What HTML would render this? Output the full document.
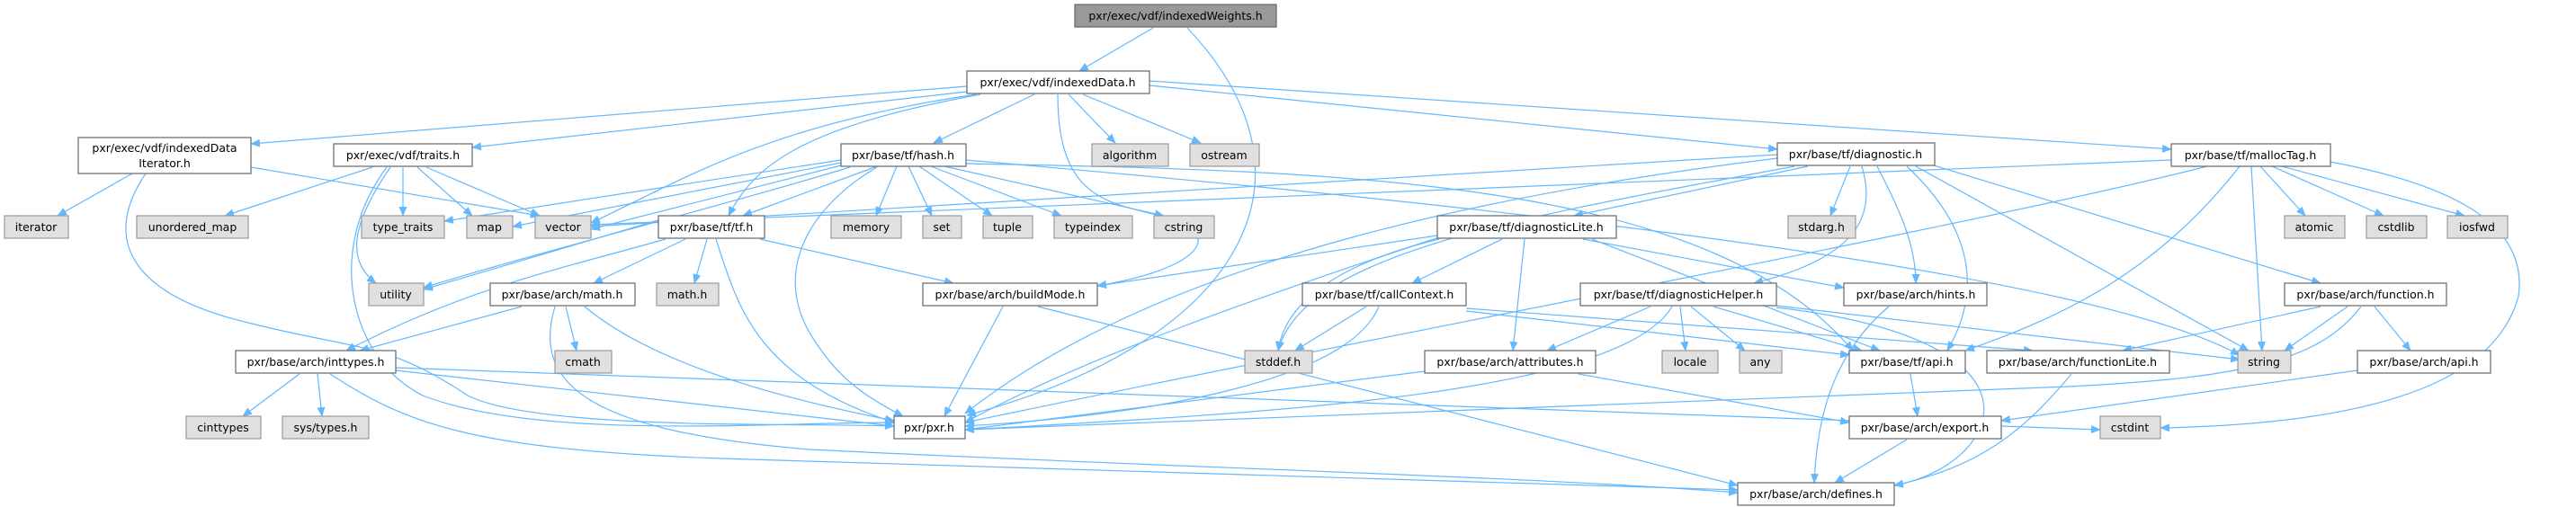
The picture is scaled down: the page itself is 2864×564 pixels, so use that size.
<!DOCTYPE html>
<html><head><meta charset="utf-8"><style>
html,body{margin:0;padding:0;background:#fff;}
svg{display:block;}
text{font-family:"DejaVu Sans","Liberation Sans",sans-serif;font-size:12.5px;fill:#000;text-anchor:middle;}
.n{fill:#fff;stroke:#666;stroke-width:1.2;}
.g{fill:#e0e0e0;stroke:#999;stroke-width:1.2;}
.e{fill:none;stroke:#63b8ff;stroke-width:1.2;marker-end:url(#a);}
</style></head><body>
<svg width="2864" height="564" viewBox="0 0 2864 564" xmlns="http://www.w3.org/2000/svg">
<defs><marker id="a" markerWidth="11" markerHeight="9" refX="10" refY="4.5" orient="auto" markerUnits="userSpaceOnUse"><path d="M0,0L11,4.5L0,9z" fill="#63b8ff"/></marker></defs>
<g>
<path class="e" d="M1282,31L1200,79"/>
<path class="e" d="M1320,31C1480,200 1380,380 1075,462"/>
<path class="e" d="M1075,96L279,160"/>
<path class="e" d="M1075,102L525,164"/>
<path class="e" d="M1150,105L1038,159"/>
<path class="e" d="M1188,105L1240,159"/>
<path class="e" d="M1204,105L1335,159"/>
<path class="e" d="M1090,105C900,140 840,180 810,240"/>
<path class="e" d="M1085,105C850,140 760,200 657,248"/>
<path class="e" d="M1278,95L1976,166"/>
<path class="e" d="M1278,90L2414,166"/>
<path class="e" d="M1176,105C1176,220 1230,225 1290,240C1370,260 1330,300 1220,318"/>
<path class="e" d="M147,193L64,240"/>
<path class="e" d="M279,186L600,240"/>
<path class="e" d="M162,193C110,270 150,330 280,360C400,390 430,380 520,440C600,480 900,470 994,474"/>
<path class="e" d="M414,186L250,240"/>
<path class="e" d="M448,186L448,240"/>
<path class="e" d="M464,186L525,240"/>
<path class="e" d="M474,186L600,240"/>
<path class="e" d="M434,186C390,250 385,290 418,315"/>
<path class="e" d="M430,186C360,280 390,400 470,440C600,490 850,470 994,470"/>
<path class="e" d="M975,185L826,240"/>
<path class="e" d="M997,185L974,240"/>
<path class="e" d="M1010,185L1036,240"/>
<path class="e" d="M1022,185L1103,240"/>
<path class="e" d="M1035,185L1180,240"/>
<path class="e" d="M1050,185L1294,240"/>
<path class="e" d="M935,178L494,246"/>
<path class="e" d="M935,181L570,252"/>
<path class="e" d="M935,184L657,255"/>
<path class="e" d="M945,186C800,230 600,280 471,320"/>
<path class="e" d="M975,186C900,230 860,300 900,370C930,420 960,440 1004,463"/>
<path class="e" d="M1074,178C1500,215 2300,290 2490,395"/>
<path class="e" d="M1074,182C1500,190 1900,200 2060,390"/>
<path class="e" d="M735,244L471,322"/>
<path class="e" d="M786,266L772,315"/>
<path class="e" d="M845,266L1060,315"/>
<path class="e" d="M796,266C820,340 840,420 994,470"/>
<path class="e" d="M762,266L660,315"/>
<path class="e" d="M740,266C620,300 520,320 385,390"/>
<path class="e" d="M580,341L400,390"/>
<path class="e" d="M629,341L641,390"/>
<path class="e" d="M650,341C720,400 850,440 994,468"/>
<path class="e" d="M617,341C590,430 660,480 900,500C1300,520 1700,530 1932,548"/>
<path class="e" d="M333,416L270,463"/>
<path class="e" d="M353,416L358,463"/>
<path class="e" d="M440,412L994,474"/>
<path class="e" d="M440,409L2335,478"/>
<path class="e" d="M367,416C450,470 520,500 800,510C1300,525 1700,535 1932,545"/>
<path class="e" d="M1115,341L1050,463"/>
<path class="e" d="M1154,341L1932,540"/>
<path class="e" d="M2010,185L1750,240"/>
<path class="e" d="M2057,185L2035,240"/>
<path class="e" d="M2070,185C2090,250 2050,290 1950,315"/>
<path class="e" d="M2087,185C2110,230 2130,270 2130,315"/>
<path class="e" d="M2120,185C2200,260 2200,330 2165,390"/>
<path class="e" d="M2130,185L2500,390"/>
<path class="e" d="M1976,172L657,252"/>
<path class="e" d="M1976,176C1700,210 1300,280 1073,460"/>
<path class="e" d="M1995,185C1700,240 1450,280 1421,390"/>
<path class="e" d="M2150,184L2580,315"/>
<path class="e" d="M1670,266L1570,315"/>
<path class="e" d="M1695,266L1682,390"/>
<path class="e" d="M1770,266L2090,390"/>
<path class="e" d="M1760,266L2050,320"/>
<path class="e" d="M1600,264C1400,330 1200,400 1073,470"/>
<path class="e" d="M1600,266C1500,290 1430,330 1421,390"/>
<path class="e" d="M1598,262L1220,318"/>
<path class="e" d="M1519,341L1440,390"/>
<path class="e" d="M1533,341C1500,420 1300,460 1073,474"/>
<path class="e" d="M1630,346L2056,395"/>
<path class="e" d="M1630,343L2260,390"/>
<path class="e" d="M1835,341L1720,390"/>
<path class="e" d="M1868,341L1874,390"/>
<path class="e" d="M1880,341L1940,390"/>
<path class="e" d="M1905,341L2070,390"/>
<path class="e" d="M1859,341C1800,440 1400,460 1073,478"/>
<path class="e" d="M1975,340L2490,400"/>
<path class="e" d="M1975,342C2300,380 2220,520 2106,540"/>
<path class="e" d="M2100,341C2030,400 2020,480 2017,537"/>
<path class="e" d="M1584,413L1073,478"/>
<path class="e" d="M1755,416L2056,470"/>
<path class="e" d="M2124,416L2132,463"/>
<path class="e" d="M2120,489L2040,537"/>
<path class="e" d="M2303,416C2250,480 2200,520 2106,540"/>
<path class="e" d="M2580,341L2360,390"/>
<path class="e" d="M2610,341L2540,390"/>
<path class="e" d="M2640,341L2680,390"/>
<path class="e" d="M2625,341C2580,400 2500,420 2300,430C1800,450 1300,470 1073,478"/>
<path class="e" d="M2621,412L2225,468"/>
<path class="e" d="M2513,185L2563,240"/>
<path class="e" d="M2526,185L2650,240"/>
<path class="e" d="M2537,185L2740,240"/>
<path class="e" d="M2503,185L2515,390"/>
<path class="e" d="M2490,185C2400,300 2300,350 2185,390"/>
<path class="e" d="M2591,180C2750,210 2810,260 2800,330C2780,400 2700,470 2402,476"/>
<path class="e" d="M2414,178L657,250"/>
<path class="e" d="M2454,185C2200,250 1500,380 1073,470"/>
</g>
<g>
<rect x="1195" y="5" width="224" height="25" fill="#999" stroke="#666" stroke-width="1.2"/><text x="1307" y="22">pxr/exec/vdf/indexedWeights.h</text>
<rect class="n" x="1075" y="79" width="203" height="25"/><text x="1176" y="96">pxr/exec/vdf/indexedData.h</text>
<rect class="n" x="87" y="153" width="192" height="40"/><text x="183" y="169">pxr/exec/vdf/indexedData</text><text x="183" y="186">Iterator.h</text>
<rect class="n" x="371" y="160" width="154" height="25"/><text x="448" y="177">pxr/exec/vdf/traits.h</text>
<rect class="n" x="935" y="160" width="139" height="25"/><text x="1004" y="177">pxr/base/tf/hash.h</text>
<rect class="g" x="1214" y="160" width="85" height="25"/><text x="1256" y="177">algorithm</text>
<rect class="g" x="1323" y="160" width="77" height="25"/><text x="1361" y="177">ostream</text>
<rect class="n" x="1976" y="159" width="175" height="25"/><text x="2063" y="176">pxr/base/tf/diagnostic.h</text>
<rect class="n" x="2414" y="160" width="177" height="25"/><text x="2502" y="177">pxr/base/tf/mallocTag.h</text>

<rect class="g" x="5" y="240" width="71" height="25"/><text x="40" y="257">iterator</text>
<rect class="g" x="152" y="240" width="124" height="25"/><text x="214" y="257">unordered_map</text>
<rect class="g" x="402" y="240" width="92" height="25"/><text x="448" y="257">type_traits</text>
<rect class="g" x="519" y="240" width="51" height="25"/><text x="544" y="257">map</text>
<rect class="g" x="595" y="240" width="62" height="25"/><text x="626" y="257">vector</text>
<rect class="n" x="732" y="240" width="118" height="25"/><text x="791" y="257">pxr/base/tf/tf.h</text>
<rect class="g" x="924" y="240" width="78" height="25"/><text x="963" y="257">memory</text>
<rect class="g" x="1026" y="240" width="43" height="25"/><text x="1047" y="257">set</text>
<rect class="g" x="1093" y="240" width="55" height="25"/><text x="1120" y="257">tuple</text>
<rect class="g" x="1172" y="240" width="87" height="25"/><text x="1215" y="257">typeindex</text>
<rect class="g" x="1283" y="240" width="67" height="25"/><text x="1316" y="257">cstring</text>
<rect class="n" x="1598" y="240" width="199" height="25"/><text x="1697" y="257">pxr/base/tf/diagnosticLite.h</text>
<rect class="g" x="1988" y="240" width="75" height="25"/><text x="2025" y="257">stdarg.h</text>
<rect class="g" x="2540" y="240" width="67" height="25"/><text x="2573" y="257">atomic</text>
<rect class="g" x="2631" y="240" width="67" height="25"/><text x="2664" y="257">cstdlib</text>
<rect class="g" x="2721" y="240" width="67" height="25"/><text x="2754" y="257">iosfwd</text>

<rect class="g" x="410" y="315" width="61" height="25"/><text x="440" y="332">utility</text>
<rect class="n" x="545" y="315" width="161" height="25"/><text x="625" y="332">pxr/base/arch/math.h</text>
<rect class="g" x="730" y="315" width="69" height="25"/><text x="764" y="332">math.h</text>
<rect class="n" x="1026" y="315" width="194" height="25"/><text x="1123" y="332">pxr/base/arch/buildMode.h</text>
<rect class="n" x="1448" y="315" width="182" height="25"/><text x="1539" y="332">pxr/base/tf/callContext.h</text>
<rect class="n" x="1757" y="315" width="218" height="25"/><text x="1866" y="332">pxr/base/tf/diagnosticHelper.h</text>
<rect class="n" x="2050" y="315" width="159" height="25"/><text x="2130" y="332">pxr/base/arch/hints.h</text>
<rect class="n" x="2540" y="315" width="180" height="25"/><text x="2630" y="332">pxr/base/arch/function.h</text>

<rect class="n" x="262" y="390" width="178" height="25"/><text x="351" y="407">pxr/base/arch/inttypes.h</text>
<rect class="g" x="617" y="390" width="63" height="25"/><text x="648" y="407">cmath</text>
<rect class="g" x="1384" y="390" width="75" height="25"/><text x="1421" y="407">stddef.h</text>
<rect class="n" x="1584" y="390" width="190" height="25"/><text x="1679" y="407">pxr/base/arch/attributes.h</text>
<rect class="g" x="1848" y="390" width="62" height="25"/><text x="1879" y="407">locale</text>
<rect class="g" x="1934" y="390" width="47" height="25"/><text x="1957" y="407">any</text>
<rect class="n" x="2056" y="390" width="129" height="25"/><text x="2120" y="407">pxr/base/tf/api.h</text>
<rect class="n" x="2209" y="390" width="203" height="25"/><text x="2310" y="407">pxr/base/arch/functionLite.h</text>
<rect class="g" x="2488" y="390" width="59" height="25"/><text x="2517" y="407">string</text>
<rect class="n" x="2621" y="390" width="148" height="25"/><text x="2695" y="407">pxr/base/arch/api.h</text>

<rect class="g" x="207" y="463" width="83" height="25"/><text x="248" y="480">cinttypes</text>
<rect class="g" x="314" y="463" width="96" height="25"/><text x="362" y="480">sys/types.h</text>
<rect class="n" x="994" y="463" width="79" height="25"/><text x="1033" y="480">pxr/pxr.h</text>
<rect class="n" x="2056" y="463" width="169" height="25"/><text x="2140" y="480">pxr/base/arch/export.h</text>
<rect class="g" x="2335" y="463" width="67" height="25"/><text x="2368" y="480">cstdint</text>

<rect class="n" x="1932" y="537" width="174" height="25"/><text x="2019" y="554">pxr/base/arch/defines.h</text>
</g>
</svg>
</body></html>
